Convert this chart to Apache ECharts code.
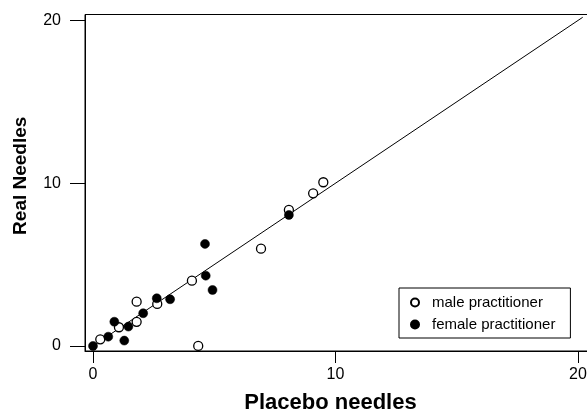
<!DOCTYPE html>
<html>
<head>
<meta charset="utf-8">
<script src="https://cdn.jsdelivr.net/npm/echarts@6/dist/echarts.min.js"></script>
<style>
html,body{margin:0;padding:0;background:#fff;}
#chart{width:587px;height:412px;}
</style>
</head>
<body>
<div id="chart"></div>
<script>
// Data
var maleX = [0.3, 1.07, 1.8, 1.8, 2.65, 4.08, 4.34, 6.93, 8.08, 9.08, 9.5];
var maleY = [0.41, 1.15, 1.48, 2.72, 2.58, 4.01, 0, 5.98, 8.36, 9.38, 10.06];
var femaleX = [0, 0.63, 0.88, 1.29, 1.46, 2.07, 2.63, 3.18, 4.65, 4.93, 4.62, 8.08];
var femaleY = [0, 0.57, 1.49, 0.33, 1.19, 2.01, 2.93, 2.87, 4.32, 3.44, 6.27, 8.05];
var lineX = [0, 20.2];
var lineY = [0, 20.2];
var tickValues = [0, 10, 20];
var seriesNames = ['male practitioner', 'female practitioner'];
var xTitle = 'Placebo needles';
var yTitle = 'Real Needles';

function pairs(xs, ys) { return xs.map(function (x, i) { return [x, ys[i]]; }); }

var FONT = "'Liberation Sans', Arial, sans-serif";
var chart = echarts.init(document.getElementById('chart'), null, {renderer: 'canvas'});
chart.setOption({
  animation: false,
  backgroundColor: '#fff',
  grid: {
    left: 85, top: 14.5, width: 505, height: 336.5,
    outerBoundsMode: 'none', containLabel: false,
    show: true, borderColor: '#000', borderWidth: 1, backgroundColor: 'transparent'
  },
  xAxis: {
    type: 'value', min: -0.33, max: 20.5,
    name: xTitle, nameLocation: 'middle', nameGap: 41,
    nameTextStyle: {fontFamily: FONT, fontSize: 22, fontWeight: 'bold', color: '#000', padding: [0, 14, 0, 0]},
    axisLine: {show: true, onZero: false, lineStyle: {color: '#000', width: 1}},
    axisTick: {show: true, customValues: tickValues, length: 12, lineStyle: {color: '#000', width: 1}},
    axisLabel: {customValues: tickValues, margin: 16, fontFamily: FONT, fontSize: 16, color: '#000'},
    splitLine: {show: false}
  },
  yAxis: {
    type: 'value', min: -0.31, max: 20.37,
    name: yTitle, nameLocation: 'middle', nameGap: 55,
    nameTextStyle: {fontFamily: FONT, fontSize: 19, fontWeight: 'bold', color: '#000', padding: [0, 0, 0, 14]},
    axisLine: {show: true, onZero: false, lineStyle: {color: '#000', width: 1}},
    axisTick: {show: true, customValues: tickValues, length: 15, lineStyle: {color: '#000', width: 1}},
    axisLabel: {customValues: tickValues, margin: 24, fontFamily: FONT, fontSize: 16, color: '#000'},
    splitLine: {show: false}
  },
  legend: {
    left: 399, top: 288, orient: 'vertical',
    data: seriesNames,
    backgroundColor: '#fff', borderColor: '#000', borderWidth: 1,
    padding: [7, 15, 6, 11],
    itemWidth: 8, itemHeight: 8, itemGap: 7,
    icon: 'circle',
    textStyle: {fontFamily: FONT, fontSize: 15, color: '#000', padding: [0, 0, 0, 8]}
  },
  series: [
    {
      type: 'line', data: pairs(lineX, lineY), symbol: 'none', silent: true,
      lineStyle: {color: '#000', width: 1}, z: 1
    },
    {
      name: seriesNames[0], type: 'scatter', data: pairs(maleX, maleY),
      symbol: 'circle', symbolSize: 9,
      itemStyle: {color: '#fff', borderColor: '#000', borderWidth: 1.3, opacity: 1}, z: 2
    },
    {
      name: seriesNames[1], type: 'scatter', data: pairs(femaleX, femaleY),
      symbol: 'circle', symbolSize: 9,
      itemStyle: {color: '#000', borderColor: '#000', borderWidth: 0.5, opacity: 1}, z: 3
    }
  ]
});
</script>
</body>
</html>
